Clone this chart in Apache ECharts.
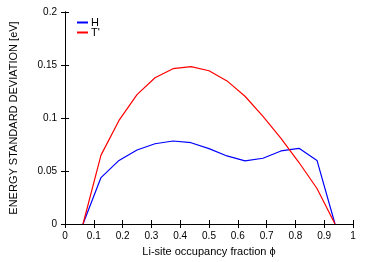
<!DOCTYPE html>
<html><head><meta charset="utf-8">
<script src="https://cdn.jsdelivr.net/npm/echarts@6/dist/echarts.min.js"></script>
<style>html,body{margin:0;padding:0;background:#fff}#c{width:374px;height:262px}</style>
</head><body><div id="c"></div>
<script>
const phi = [0.0625,0.125,0.1875,0.25,0.3125,0.375,0.4375,0.5,0.5625,0.625,0.6875,0.75,0.8125,0.875,0.9375];
const H = [0,0.0438,0.060,0.0698,0.0757,0.0783,0.0767,0.0711,0.0642,0.0595,0.062,0.0689,0.0714,0.060,0];
const T = [0,0.065,0.0977,0.122,0.138,0.1465,0.1484,0.1446,0.135,0.1205,0.1015,0.0807,0.058,0.0335,0];
const xTicks = [0,0.1,0.2,0.3,0.4,0.5,0.6,0.7,0.8,0.9,1];
const yTicks = [0,0.05,0.1,0.15,0.2];

const font = 'Liberation Sans, Arial, sans-serif';
const chart = echarts.init(document.getElementById('c'), null, {renderer:'canvas'});
const axLine = {show:true, lineStyle:{color:'#000', width:1}};
const tick = {show:true, inside:true, length:4, lineStyle:{color:'#000', width:1}};
chart.setOption({
  animation:false,
  grid:{left:63, right:21, top:12, bottom:37, containLabel:false},
  legend:{
    left:72, top:12, orient:'vertical', itemWidth:11, itemHeight:2, itemGap:-1,
    icon:'rect',
    textStyle:{fontFamily:font, fontSize:11, lineHeight:11, color:'#000', padding:[0,0,0,-2]},
    data:['H',"T'"]
  },
  xAxis:[{
    type:'value', min:0, max:1, interval:0.1,
    axisLine:axLine, axisTick:tick, splitLine:{show:false},
    axisLabel:{fontFamily:font, fontSize:10, color:'#000', margin:7,
      formatter:v=>{const t=xTicks.find(a=>Math.abs(a-v)<1e-9);return t===undefined?'':String(t);}},
    name:'Li-site occupancy fraction \u03d5', nameLocation:'middle', nameGap:22,
    nameTextStyle:{fontFamily:font, fontSize:11, color:'#000'}
  },{
    type:'value', min:0, max:1, interval:0.1, position:'top',
    axisLine:axLine, axisTick:tick, axisLabel:{show:false}, splitLine:{show:false}
  }],
  yAxis:[{
    type:'value', min:0, max:0.2, interval:0.05,
    axisLine:axLine, axisTick:tick, splitLine:{show:false},
    axisLabel:{fontFamily:font, fontSize:10, color:'#000', margin:8,
      formatter:v=>{const t=yTicks.find(a=>Math.abs(a-v)<1e-9);return t===undefined?'':String(t);}},
    name:'ENERGY STANDARD DEVIATION [eV]', nameLocation:'middle', nameGap:46, nameRotate:90,
    nameTextStyle:{fontFamily:font, fontSize:11, color:'#000'}
  },{
    type:'value', min:0, max:0.2, interval:0.05, position:'right',
    axisLine:axLine, axisTick:tick, axisLabel:{show:false}, splitLine:{show:false}
  }],
  series:[
    {name:'H', type:'line', data:phi.map((x,i)=>[x,H[i]]), showSymbol:false, symbol:'none',
     lineStyle:{color:'#0000ff', width:1.2}, itemStyle:{color:'#0000ff'}},
    {name:"T'", type:'line', data:phi.map((x,i)=>[x,T[i]]), showSymbol:false, symbol:'none',
     lineStyle:{color:'#ff0000', width:1.2}, itemStyle:{color:'#ff0000'}}
  ]
});
</script></body></html>
